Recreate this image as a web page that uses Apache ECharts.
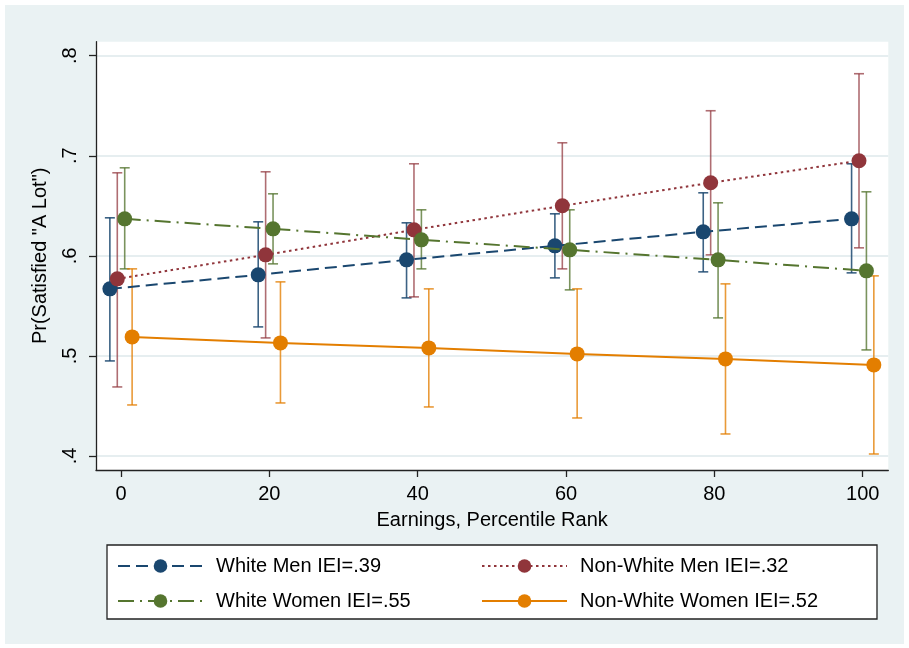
<!DOCTYPE html>
<html><head><meta charset="utf-8">
<script src="https://cdn.jsdelivr.net/npm/echarts@6/dist/echarts.min.js"></script>
<style>html,body{margin:0;padding:0;background:#fff}#c{width:909px;height:648px}</style>
</head><body><div id="c"></div>
<script>
// ---- data ----
const percentiles = [0, 20, 40, 60, 80, 100];
const xTicks = [0, 20, 40, 60, 80, 100];
const yTicks = [0.4, 0.5, 0.6, 0.7, 0.8];
const seriesNames = ['White Men IEI=.39', 'Non-White Men IEI=.32', 'White Women IEI=.55', 'Non-White Women IEI=.52'];
const jitter = [-1.5, -0.5, 0.5, 1.5];

const whiteMen      = [0.567, 0.581, 0.596, 0.610, 0.624, 0.637];
const whiteMenLow   = [0.495, 0.529, 0.558, 0.578, 0.584, 0.583];
const whiteMenHigh  = [0.638, 0.634, 0.633, 0.642, 0.663, 0.692];

const nonWhiteMen     = [0.577, 0.601, 0.626, 0.650, 0.673, 0.695];
const nonWhiteMenLow  = [0.469, 0.518, 0.559, 0.587, 0.601, 0.608];
const nonWhiteMenHigh = [0.683, 0.684, 0.692, 0.713, 0.745, 0.782];

const whiteWomen     = [0.637, 0.627, 0.616, 0.606, 0.596, 0.585];
const whiteWomenLow  = [0.587, 0.592, 0.587, 0.566, 0.538, 0.506];
const whiteWomenHigh = [0.688, 0.662, 0.646, 0.646, 0.653, 0.664];

const nonWhiteWomen     = [0.519, 0.513, 0.508, 0.502, 0.497, 0.491];
const nonWhiteWomenLow  = [0.451, 0.453, 0.449, 0.438, 0.422, 0.402];
const nonWhiteWomenHigh = [0.587, 0.574, 0.567, 0.567, 0.572, 0.580];

// ---- styles ----
const colors = ['#1a476f', '#90353b', '#55752f', '#e37e00'];
const barColors = ['rgba(26,71,111,0.85)', 'rgba(144,53,59,0.72)', 'rgba(85,117,47,0.78)', 'rgba(227,126,0,0.78)'];
const dashes = [[12, 6], [2.5, 3.5], [16, 6, 2, 6], 'solid'];
const FONT = 'Liberation Sans, Arial, Helvetica, sans-serif';

const est = [whiteMen, nonWhiteMen, whiteWomen, nonWhiteWomen];
const lows = [whiteMenLow, nonWhiteMenLow, whiteWomenLow, nonWhiteWomenLow];
const highs = [whiteMenHigh, nonWhiteMenHigh, whiteWomenHigh, nonWhiteWomenHigh];

function renderBar(params, api) {
  const x = api.value(0);
  const lo = api.coord([x, api.value(1)]);
  const hi = api.coord([x, api.value(2)]);
  const w = 5;
  const style = { stroke: api.visual('color'), lineWidth: 1.6 };
  return {
    type: 'group',
    children: [
      { type: 'line', shape: { x1: lo[0], y1: lo[1], x2: hi[0], y2: hi[1] }, style },
      { type: 'line', shape: { x1: lo[0] - w, y1: lo[1], x2: lo[0] + w, y2: lo[1] }, style },
      { type: 'line', shape: { x1: hi[0] - w, y1: hi[1], x2: hi[0] + w, y2: hi[1] }, style }
    ]
  };
}

const series = [];
for (let k = 0; k < 4; k++) {
  series.push({
    name: seriesNames[k] + ' CI',
    type: 'custom',
    renderItem: renderBar,
    encode: { x: 0, y: [1, 2] },
    itemStyle: { color: barColors[k] },
    z: 2,
    silent: true,
    data: percentiles.map((p, i) => [p + jitter[k], lows[k][i], highs[k][i]])
  });
}
for (let k = 0; k < 4; k++) {
  series.push({
    name: seriesNames[k],
    type: 'line',
    symbol: 'circle',
    symbolSize: 15,
    showSymbol: true,
    lineStyle: { color: colors[k], width: 2, type: dashes[k] },
    itemStyle: { color: colors[k] },
    z: 3 + k,
    data: percentiles.map((p, i) => [p + jitter[k], est[k][i]])
  });
}

const chart = echarts.init(document.getElementById('c'), null, { renderer: 'canvas' });
chart.setOption({
  animation: false,
  backgroundColor: '#ffffff',
  textStyle: { fontFamily: FONT },
  graphic: [{
    type: 'rect', z: -10, silent: true,
    shape: { x: 5, y: 5, width: 899, height: 639 },
    style: { fill: '#eaf2f3' }
  }],
  grid: {
    left: 96, right: 20.7, top: 41.7, bottom: 178,
    show: true, backgroundColor: '#ffffff', borderWidth: 0, containLabel: false
  },
  xAxis: {
    type: 'value', min: -3.37, max: 103.45,
    name: 'Earnings, Percentile Rank', nameLocation: 'middle', nameGap: 40,
    nameTextStyle: { fontSize: 20, color: '#000', fontFamily: FONT },
    axisLine: { show: true, onZero: false, lineStyle: { color: '#222', width: 1.3 } },
    axisTick: { show: true, length: 7, lineStyle: { color: '#222', width: 1.3 }, customValues: xTicks },
    axisLabel: { fontSize: 20, color: '#000', margin: 14, customValues: xTicks, fontFamily: FONT },
    splitLine: { show: false }
  },
  yAxis: {
    type: 'value', min: 0.386, max: 0.814,
    name: 'Pr(Satisfied "A Lot")', nameLocation: 'middle', nameGap: 46, nameRotate: 90,
    nameTextStyle: { fontSize: 20, color: '#000', fontFamily: FONT },
    axisLine: { show: true, onZero: false, lineStyle: { color: '#222', width: 1.3 } },
    axisTick: { show: true, length: 7, lineStyle: { color: '#222', width: 1.3 }, customValues: yTicks },
    axisLabel: {
      fontSize: 20, color: '#000', rotate: 90, margin: 16, customValues: yTicks, fontFamily: FONT,
      formatter: v => v.toFixed(1).replace(/^0/, '')
    },
    splitLine: { show: true, lineStyle: { color: '#e6eef0', width: 2 } }
  },
  legend: {
    data: seriesNames,
    left: 107, top: 545, width: 730,
    padding: [11, 47, 8, 10],
    orient: 'horizontal',
    itemWidth: 85, itemHeight: 17, itemGap: 15,
    backgroundColor: '#ffffff', borderColor: '#222', borderWidth: 1.3, borderRadius: 0,
    textStyle: { fontSize: 20, color: '#000', width: 250, padding: [0, 0, 0, 8], lineHeight: 20, fontFamily: FONT },
    selectedMode: false
  },
  series: series
});
</script></body></html>
